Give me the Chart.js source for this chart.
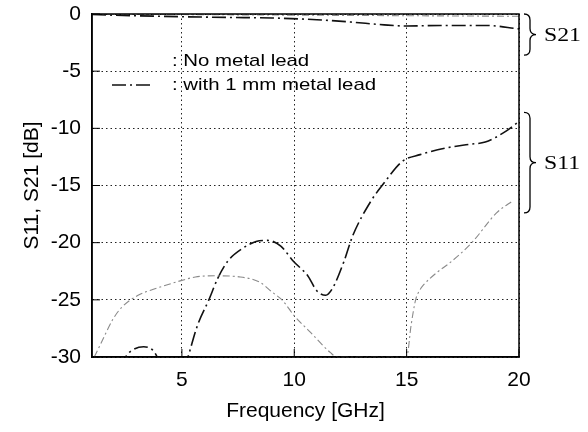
<!DOCTYPE html>
<html>
<head>
<meta charset="utf-8">
<script src="https://cdn.jsdelivr.net/npm/chart.js@4.4.1/dist/chart.umd.min.js"></script>
<style>
  html, body { margin: 0; padding: 0; background: #fff; }
  #wrap { width: 588px; height: 432px; position: relative; }
</style>
</head>
<body>
<div id="wrap"><canvas id="myChart"></canvas></div>
<script>
// axis ticks
var xTicks = [5, 10, 15, 20];
var yTicks = [0, -5, -10, -15, -20, -25, -30];

// with 1 mm metal lead (dash-dot, black)
var leadS11Freq = [2.3, 2.5, 2.8, 3.3, 3.7, 3.9, 4.1, 4.6, 5.1, 5.27, 5.7, 6.2, 6.6, 7.05, 7.7, 8.3, 8.8, 9.4, 9.95, 10.6, 11.0, 11.4, 11.7, 12.2, 12.6, 13.4, 13.95, 14.8, 15.6, 16.8, 17.8, 18.5, 19.3, 20];
var leadS11 = [-31, -30, -29.4, -29.1, -29.4, -30, -31, null, -31, -30, -27.2, -25.0, -23.1, -21.6, -20.5, -19.9, -19.8, -20.3, -21.6, -22.9, -24.2, -24.6, -24.0, -21.7, -19.4, -16.4, -14.9, -12.9, -12.3, -11.7, -11.4, -11.2, -10.4, -9.4];
var leadS21Freq = [1, 4, 7, 9, 11, 12.5, 14, 15, 16.5, 18.5, 20];
var leadS21 = [-0.05, -0.2, -0.3, -0.35, -0.5, -0.7, -0.95, -1.05, -1.0, -1.0, -1.3];

// no metal lead (thin grey)
var bareS11Freq = [1.1, 1.4, 1.93, 2.3, 3.05, 3.7, 5.0, 5.6, 6.5, 7.6, 8.5, 9.0, 9.5, 10.0, 10.7, 11.6, 11.9, 13.5, 15.0, 15.2, 15.4, 15.6, 15.75, 16.35, 16.9, 17.9, 19.0, 19.75];
var bareS11 = [-30, -28.8, -26.7, -25.7, -24.6, -24.1, -23.3, -23.0, -22.9, -23.0, -23.5, -24.3, -25.1, -26.4, -27.8, -29.6, -30, -30, -30, -27.2, -25.0, -24.1, -23.7, -22.6, -21.8, -20.0, -17.4, -16.3];
var bareS21Freq = [1, 5, 10, 15, 20];
var bareS21 = [0, -0.05, -0.1, -0.15, -0.2];

var seriesNames = [': No metal lead', ': with 1 mm metal lead'];

function points(xs, ys) {
    return xs.map(function (x, i) { return {x: x, y: ys[i]}; });
}

var darkStyle = {borderColor: '#111', borderWidth: 1.6, borderDash: [14, 4, 2, 4]};
var lightStyle = {borderColor: '#8a8a8a', borderWidth: 1.1, borderDash: [7, 3, 2, 3]};

function ds(data, style) {
    return Object.assign({
        data: data,
        pointRadius: 0,
        fill: false,
        cubicInterpolationMode: 'monotone',
        spanGaps: false
    }, style);
}

// frame, inner ticks, braces and legend
var decorations = {
    id: 'decorations',
    afterDraw: function (chart) {
        var ctx = chart.ctx;
        var a = chart.chartArea;
        var xs = chart.scales.x, ys = chart.scales.y;
        ctx.save();
        ctx.strokeStyle = '#000';
        ctx.lineWidth = 1.5;
        ctx.setLineDash([]);
        ctx.strokeRect(a.left, a.top, a.right - a.left, a.bottom - a.top);

        ctx.lineWidth = 1;
        ctx.beginPath();
        yTicks.forEach(function (v) {
            var p = ys.getPixelForValue(v);
            ctx.moveTo(a.left, p); ctx.lineTo(a.left + 8, p);
        });
        xTicks.forEach(function (v) {
            var p = xs.getPixelForValue(v);
            ctx.moveTo(p, a.bottom); ctx.lineTo(p, a.bottom - 8);
        });
        ctx.stroke();

        // braces
        function brace(yTop, yBot, label) {
            var x0 = a.right + 5, w = 12, r = 6;
            var yMid = (yTop + yBot) / 2;
            var xm = x0 + w / 2;
            ctx.beginPath();
            ctx.moveTo(x0, yTop);
            ctx.quadraticCurveTo(xm, yTop, xm, yTop + r);
            ctx.lineTo(xm, yMid - r);
            ctx.quadraticCurveTo(xm, yMid, x0 + w, yMid);
            ctx.quadraticCurveTo(xm, yMid, xm, yMid + r);
            ctx.lineTo(xm, yBot - r);
            ctx.quadraticCurveTo(xm, yBot, x0, yBot);
            ctx.lineWidth = 1.3;
            ctx.stroke();
            ctx.save();
            ctx.translate(x0 + w + 8, yMid + 1);
            ctx.scale(1.25, 1);
            ctx.font = '19px "Liberation Serif", "Times New Roman", serif';
            ctx.fillStyle = '#000';
            ctx.textBaseline = 'middle';
            ctx.fillText(label, 0, 0);
            ctx.restore();
        }
        brace(ys.getPixelForValue(0), ys.getPixelForValue(-3.6), 'S21');
        brace(ys.getPixelForValue(-8.6), ys.getPixelForValue(-17.4), 'S11');

        // legend
        ctx.fillStyle = '#000';
        ctx.textBaseline = 'middle';
        ctx.font = '17px "Liberation Sans", Arial, sans-serif';
        [61, 85].forEach(function (y, i) {
            ctx.save();
            ctx.translate(172, y);
            ctx.scale(1.2, 1);
            ctx.fillText(seriesNames[i], 0, 0);
            ctx.restore();
        });
        ctx.strokeStyle = darkStyle.borderColor;
        ctx.lineWidth = darkStyle.borderWidth;
        ctx.setLineDash(darkStyle.borderDash);
        ctx.beginPath();
        ctx.moveTo(112, 85); ctx.lineTo(154, 85);
        ctx.stroke();
        ctx.restore();
    }
};

var ctx = document.getElementById('myChart');
var font = {family: '"Liberation Sans", Arial, sans-serif', size: 21};

var myChart = new Chart(ctx, {
    type: 'line',
    data: {
        datasets: [
            ds(points(bareS11Freq, bareS11), lightStyle),
            ds(points(bareS21Freq, bareS21), lightStyle),
            ds(points(leadS11Freq, leadS11), darkStyle),
            ds(points(leadS21Freq, leadS21), darkStyle)
        ]
    },
    options: {
        responsive: true,
        maintainAspectRatio: false,
        animation: false,
        layout: {padding: {top: 14, right: 69, left: 0, bottom: 0}},
        plugins: {legend: {display: false}, tooltip: {enabled: false}},
        scales: {
            x: {
                type: 'linear',
                min: 1, max: 20,
                afterBuildTicks: function (scale) {
                    scale.ticks = xTicks.map(function (v) { return {value: v}; });
                },
                afterFit: function (scale) {
                    scale.height = 75;
                    scale.paddingLeft = 0; scale.paddingRight = 0;
                },
                grid: {color: '#222', lineWidth: 1, drawTicks: false},
                border: {color: '#000', width: 1.5, dash: [1.5, 3]},
                ticks: {color: '#000', font: font, padding: 11, maxRotation: 0},
                title: {display: true, text: 'Frequency [GHz]', color: '#000', font: font, padding: {top: 4, bottom: 8}}
            },
            y: {
                min: -30, max: 0,
                afterBuildTicks: function (scale) {
                    scale.ticks = yTicks.map(function (v) { return {value: v}; });
                },
                afterFit: function (scale) {
                    scale.width = 92;
                    scale.paddingTop = 0; scale.paddingBottom = 0;
                },
                grid: {color: '#222', lineWidth: 1, drawTicks: false},
                border: {color: '#000', width: 1.5, dash: [1.5, 3]},
                ticks: {color: '#000', font: font, padding: 11},
                title: {display: true, text: 'S11, S21 [dB]', color: '#000', font: font, padding: {top: 20, bottom: 0}}
            }
        }
    },
    plugins: [decorations]
});
</script>
</body>
</html>
